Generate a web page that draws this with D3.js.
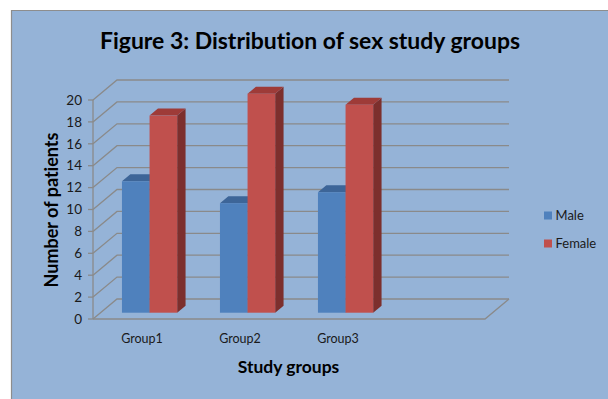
<!DOCTYPE html>
<html>
<head>
<meta charset="utf-8">
<script src="https://cdn.jsdelivr.net/npm/d3@7"></script>
<style>
  html, body { margin: 0; padding: 0; background: #ffffff; }
  svg { display: block; }
  text { font-family: Lato, "Open Sans", sans-serif; font-variant-ligatures: none; }
</style>
</head>
<body>
<svg id="chart" width="608" height="399"></svg>
<script>
// Patient counts per study group, split by sex
const categories = ["Group1", "Group2", "Group3"];
const series = ["Male", "Female"];
const maleCounts = [12, 10, 11];
const femaleCounts = [18, 20, 19];
const yTicks = [0, 2, 4, 6, 8, 10, 12, 14, 16, 18, 20];

const titleText = "Figure 3: Distribution of sex study groups";
const xTitle = "Study groups";
const yTitle = "Number of patients";

const colors = {
  Male:   { front: "#4f81bd", top: "#3d6598", side: "#355985" },
  Female: { front: "#c0504d", top: "#9e3b38", side: "#7c2f2d" }
};

const svg = d3.select("#chart");
const W = 608, H = 399;

// Chart area background with a thin border on the visible sides
svg.append("rect").attr("x", 11).attr("y", 10).attr("width", W - 11).attr("height", H - 10)
  .attr("fill", "#95b3d7");
svg.append("path").attr("d", `M11.5,${H} V10.5 H${W}`)
  .attr("fill", "none").attr("stroke", "#8d8d8d").attr("stroke-width", 1.2);

// 3D geometry: front plane of the plot and the depth vector toward the back wall
const front = { left: 93, right: 485, bottom: 319, top: 100 };
const DX = 24, DY = -20;

// four category slots across the floor; the last one stays empty
const x = d3.scaleBand().domain([...categories, "_blank"]).range([front.left, front.right]);
const inner = d3.scaleBand().domain(series).range([0, x.bandwidth()]).paddingOuter(0.775).paddingInner(0);
const y = d3.scaleLinear().domain([0, 20]).range([front.bottom, front.top]);

const P = (px, py, t) => [px + t * DX, py + t * DY];
const line = pts => "M" + pts.map(p => p.join(",")).join("L");

const grid = svg.append("g").attr("fill", "none").attr("stroke", "#8a8a8a").attr("stroke-width", 1.3);

// side-wall diagonals and back-wall gridlines
yTicks.forEach(v => {
  const a = [front.left, y(v)];
  const b = P(front.left, y(v), 1);
  const c = P(front.right, y(v), 1);
  grid.append("path").attr("d", line([a, b, c]));
});
// floor front edge and right edge
grid.append("path").attr("d", line([
  [front.left, y(0)], [front.right, y(0)], P(front.right, y(0), 1)
]));
// vertical axis line and tick marks
grid.append("path").attr("d", line([[front.left, y(0)], [front.left, y(20)]]));
yTicks.forEach(v => {
  grid.append("path").attr("d", line([[front.left - 5, y(v)], [front.left, y(v)]]));
});

// y tick labels
svg.append("g").selectAll("text").data(yTicks).join("text")
  .attr("x", 82).attr("y", d => y(d)).attr("dy", "0.35em")
  .attr("text-anchor", "end").attr("font-size", 13.5).attr("fill", "#1a1a1a")
  .text(d => d);

// x category labels at the front edge of each slot
svg.append("g").selectAll("text").data(categories).join("text")
  .attr("x", d => x(d) + x.bandwidth() / 2).attr("y", 339).attr("dy", "0.35em")
  .attr("text-anchor", "middle").attr("font-size", 12.5).attr("fill", "#1a1a1a")
  .text(d => d);

// bars: extruded boxes sitting inside the floor depth
const t0 = 0.315, td = 0.35;
const bars = [];
categories.forEach((c, i) => {
  bars.push({ cat: c, s: "Male", v: maleCounts[i] });
  bars.push({ cat: c, s: "Female", v: femaleCounts[i] });
});

const barG = svg.append("g");
bars.forEach(d => {
  const x0 = x(d.cat) + inner(d.s) + t0 * DX;
  const x1 = x0 + inner.bandwidth();
  const yb = y(0) + t0 * DY;
  const yt = y(d.v) + t0 * DY;
  const col = colors[d.s];
  // side face
  barG.append("path").attr("fill", col.side)
    .attr("d", line([[x1, yb], [x1 + td * DX, yb + td * DY], [x1 + td * DX, yt + td * DY], [x1, yt]]) + "Z");
  // top face
  barG.append("path").attr("fill", col.top)
    .attr("d", line([[x0, yt], [x1, yt], [x1 + td * DX, yt + td * DY], [x0 + td * DX, yt + td * DY]]) + "Z");
  // front face
  barG.append("rect").attr("fill", col.front)
    .attr("x", x0).attr("y", yt).attr("width", x1 - x0).attr("height", yb - yt);
});

// titles
svg.append("text").attr("x", 310).attr("y", 48.5).attr("text-anchor", "middle")
  .attr("font-size", 23.5).attr("font-weight", "bold").attr("fill", "#000")
  .attr("textLength", 420).attr("lengthAdjust", "spacingAndGlyphs")
  .text(titleText);

svg.append("text").attr("x", 288.5).attr("y", 372.5).attr("text-anchor", "middle")
  .attr("font-size", 17.5).attr("font-weight", "bold").attr("fill", "#000")
  .text(xTitle);

svg.append("text").attr("transform", "translate(57.5,210) rotate(-90)").attr("text-anchor", "middle")
  .attr("font-size", 18).attr("font-weight", "bold").attr("fill", "#000")
  .text(yTitle);

// legend
const legend = svg.append("g");
series.forEach((s, i) => {
  const cy = 215.5 + i * 28;
  legend.append("rect").attr("x", 544).attr("y", cy - 4).attr("width", 8).attr("height", 8)
    .attr("fill", colors[s].front);
  legend.append("text").attr("x", 555.5).attr("y", cy).attr("dy", "0.35em")
    .attr("font-size", 13).attr("fill", "#1a1a1a").text(s);
});
</script>
</body>
</html>
